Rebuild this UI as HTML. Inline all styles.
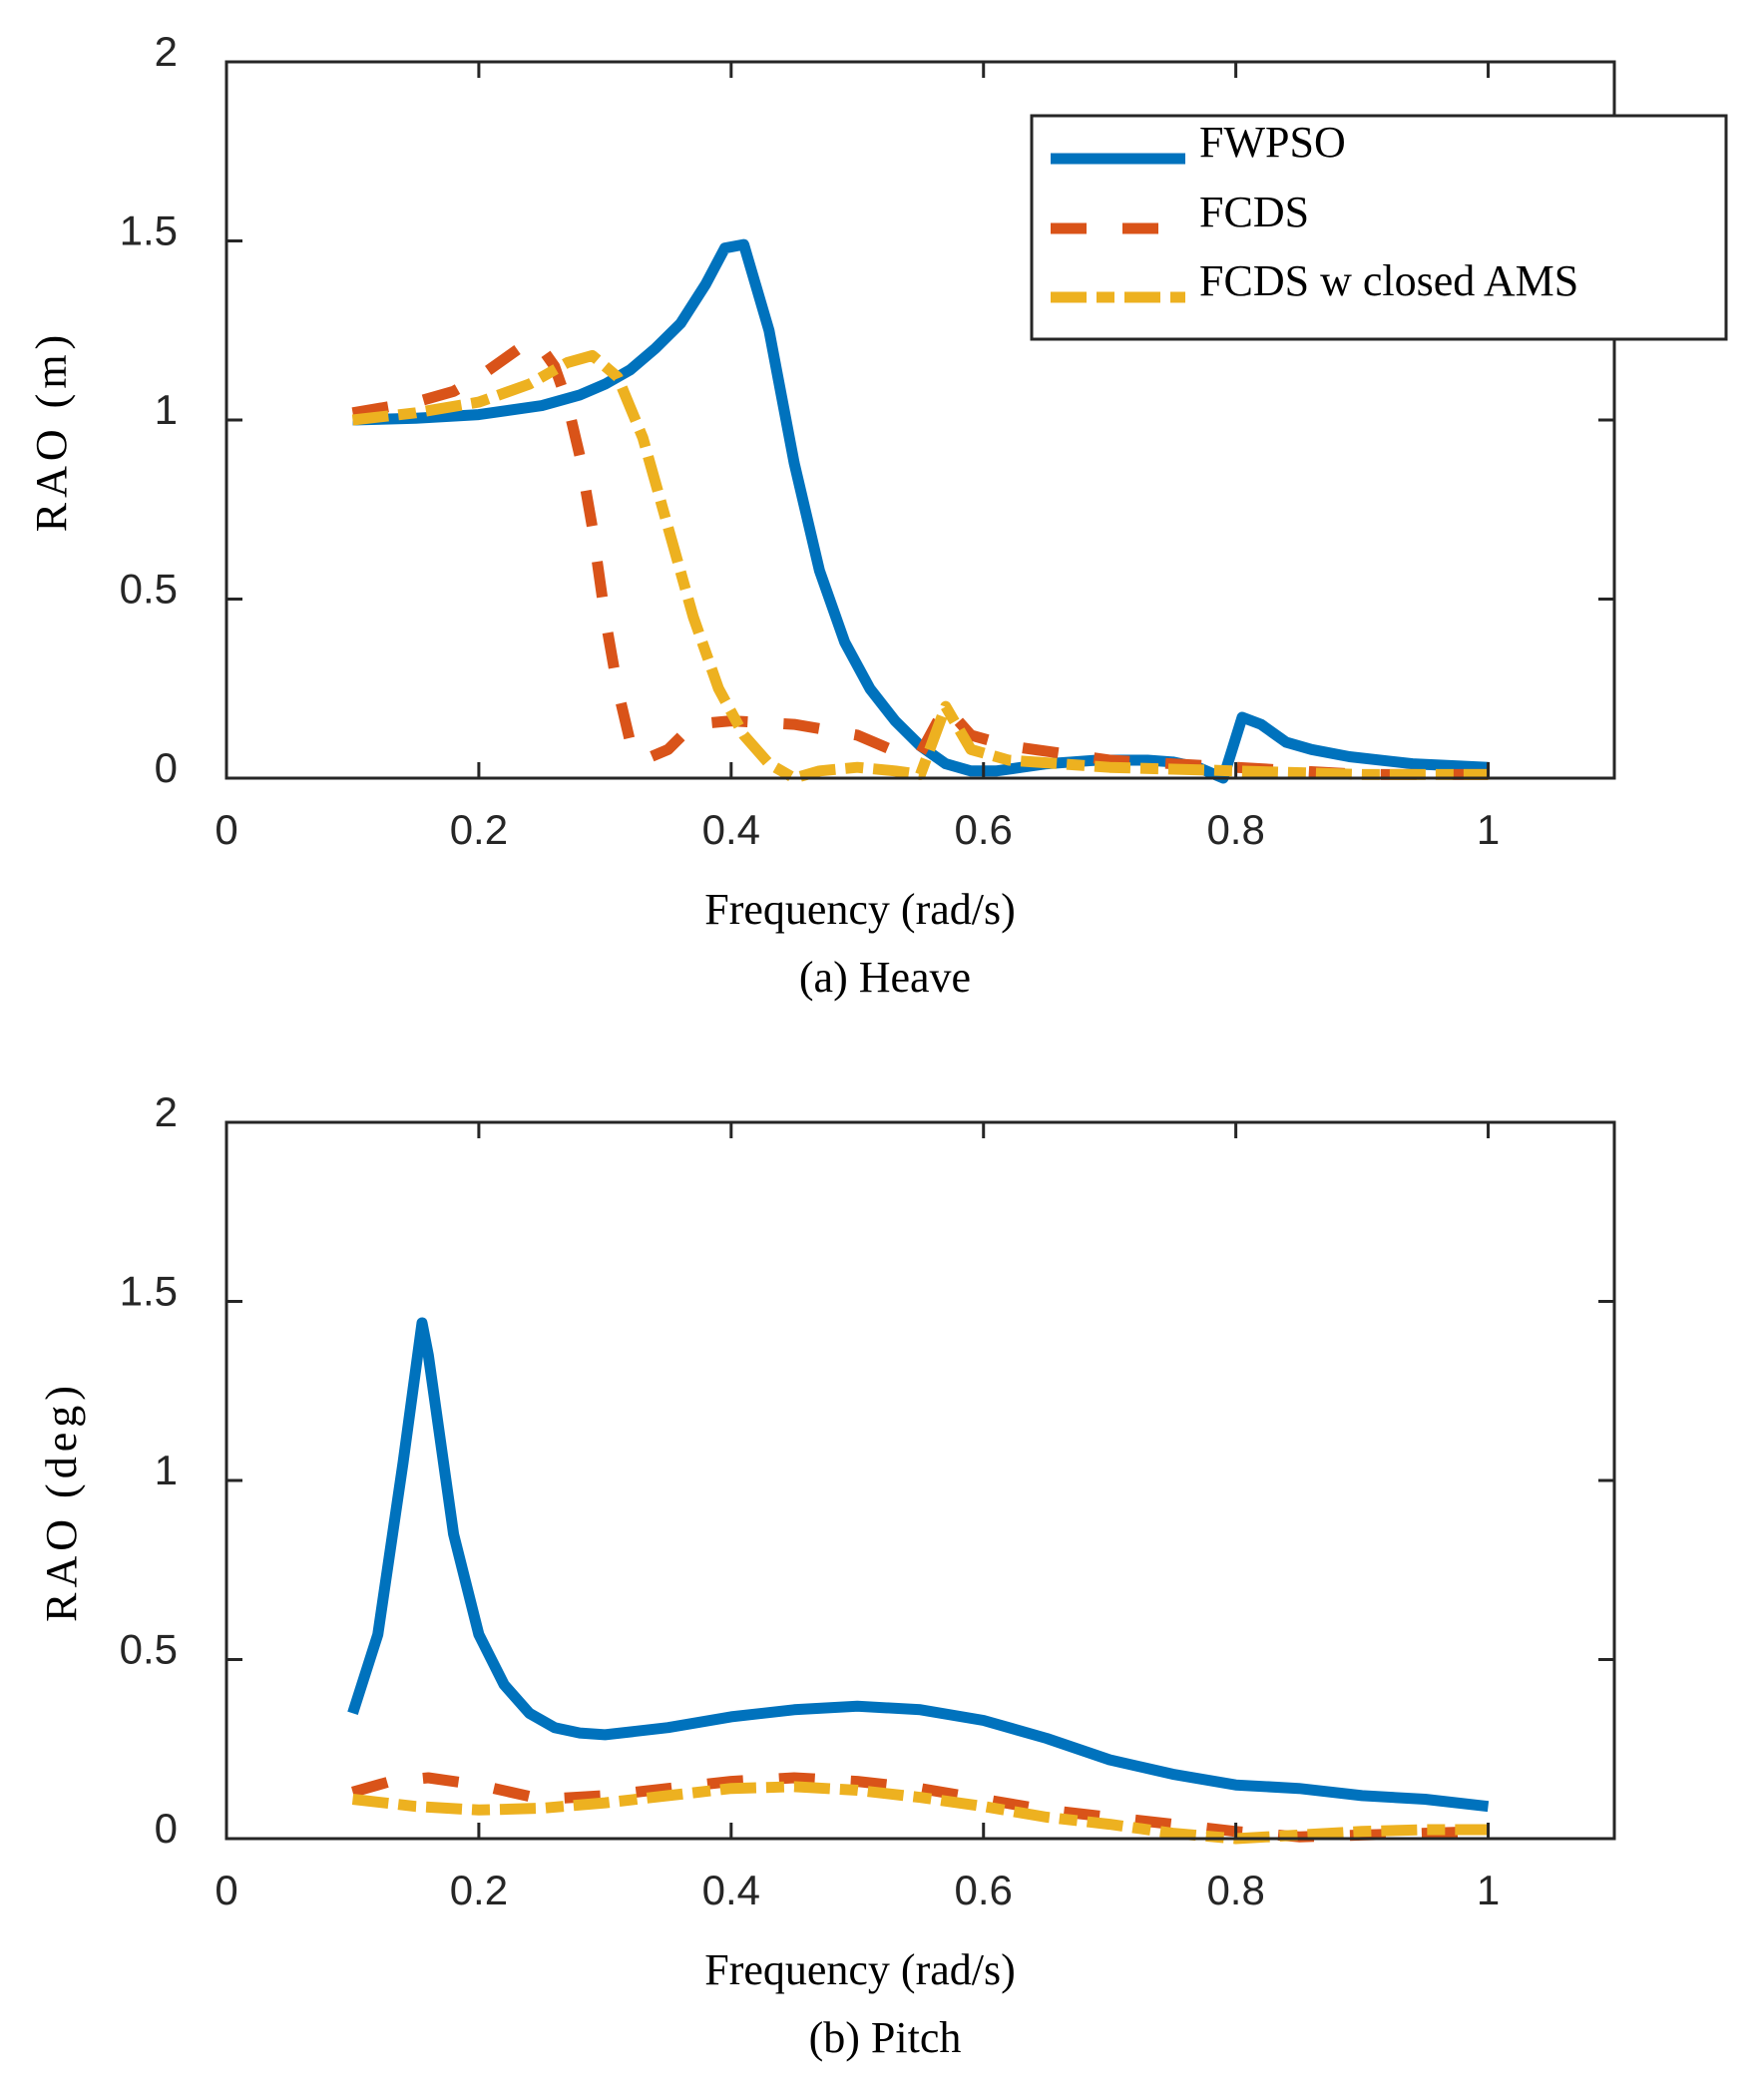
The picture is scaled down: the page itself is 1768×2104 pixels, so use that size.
<!DOCTYPE html>
<html><head><meta charset="utf-8"><style>
html,body{margin:0;padding:0;background:#fff;}
svg{display:block;}
.tick{font-family:"Liberation Sans",sans-serif;font-size:42px;fill:#262626;}
.lab{font-family:"Liberation Serif",serif;font-size:44px;fill:#000;}
</style></head><body>
<svg id="chart" width="1768" height="2104" viewBox="0 0 1768 2104" xmlns="http://www.w3.org/2000/svg"></svg>
<script>
const xTicks = [0, 0.2, 0.4, 0.6, 0.8, 1];
const xTickLabels = ["0", "0.2", "0.4", "0.6", "0.8", "1"];
const yTicks = [0, 0.5, 1, 1.5, 2];
const yTickLabels = ["0", "0.5", "1", "1.5", "2"];
const seriesNames = ["FWPSO", "FCDS", "FCDS w closed AMS"];

const heaveFwpsoX = [0.1,0.15,0.2,0.25,0.28,0.3,0.32,0.34,0.36,0.38,0.395,0.41,0.43,0.45,0.47,0.49,0.51,0.53,0.55,0.57,0.59,0.61,0.63,0.65,0.67,0.69,0.71,0.73,0.75,0.77,0.79,0.805,0.82,0.84,0.86,0.89,0.94,1.0];
const heaveFwpsoY = [1.0,1.005,1.015,1.04,1.07,1.1,1.14,1.2,1.27,1.38,1.48,1.49,1.25,0.88,0.58,0.38,0.25,0.16,0.09,0.04,0.02,0.02,0.03,0.04,0.045,0.05,0.05,0.05,0.045,0.03,0.0,0.17,0.15,0.1,0.08,0.06,0.04,0.03];
const heaveFcdsX = [0.1,0.15,0.18,0.2,0.22,0.24,0.25,0.26,0.27,0.28,0.29,0.3,0.31,0.32,0.33,0.35,0.37,0.4,0.45,0.5,0.54,0.55,0.57,0.59,0.62,0.7,0.8,0.9,1.0];
const heaveFcdsY = [1.02,1.05,1.08,1.12,1.17,1.22,1.2,1.15,1.05,0.9,0.7,0.45,0.25,0.1,0.05,0.08,0.15,0.16,0.15,0.12,0.06,0.07,0.2,0.12,0.09,0.05,0.03,0.01,0.01];
const heaveAmsX = [0.1,0.15,0.2,0.24,0.27,0.29,0.31,0.33,0.35,0.37,0.39,0.41,0.43,0.45,0.47,0.5,0.53,0.55,0.57,0.59,0.62,0.7,0.8,0.9,1.0];
const heaveAmsY = [1.0,1.02,1.05,1.1,1.16,1.18,1.12,0.95,0.7,0.45,0.25,0.12,0.04,0.0,0.02,0.03,0.02,0.01,0.2,0.08,0.05,0.03,0.02,0.01,0.01];

const pitchFwpsoX = [0.1,0.12,0.14,0.155,0.16,0.18,0.2,0.22,0.24,0.26,0.28,0.3,0.35,0.4,0.45,0.5,0.55,0.6,0.65,0.7,0.75,0.8,0.85,0.9,0.95,1.0];
const pitchFwpsoY = [0.35,0.57,1.05,1.44,1.35,0.85,0.57,0.43,0.35,0.31,0.295,0.29,0.31,0.34,0.36,0.37,0.36,0.33,0.28,0.22,0.18,0.15,0.14,0.12,0.11,0.09];
const pitchFcdsX = [0.1,0.13,0.16,0.2,0.25,0.3,0.35,0.4,0.45,0.5,0.55,0.6,0.65,0.7,0.75,0.8,0.85,0.9,0.95,1.0];
const pitchFcdsY = [0.13,0.16,0.17,0.15,0.11,0.12,0.14,0.16,0.17,0.16,0.14,0.11,0.08,0.06,0.04,0.02,0.005,0.01,0.015,0.02];
const pitchAmsX = [0.1,0.15,0.2,0.25,0.3,0.35,0.4,0.45,0.5,0.55,0.6,0.65,0.7,0.75,0.8,0.85,0.9,0.95,1.0];
const pitchAmsY = [0.11,0.09,0.08,0.085,0.1,0.12,0.14,0.145,0.135,0.115,0.09,0.06,0.04,0.015,0.0,0.01,0.02,0.025,0.025];

const NS = "http://www.w3.org/2000/svg";
const svg = document.getElementById("chart");
const colors = ["#0072BD", "#D95319", "#EDB120"];
const dashes = [null, "36 36", "36 10 18 10"];

function mk(tag, attrs, parent) {
  const e = document.createElementNS(NS, tag);
  for (const k in attrs) e.setAttribute(k, attrs[k]);
  (parent || svg).appendChild(e);
  return e;
}

function drawPanel(id, top, yTitle, xTitle, caption, sx, sy, yTitleX, yTitleY) {
  const L = 227, R = 1618, T = top, B = top + 718;
  const xs = v => L + (R - L) * v / 1.1;
  const ys = v => B - (B - T) * v / 2;
  const g = mk("g", {});
  
  

  const plotArea = mk("rect", {x: L, y: T, width: R - L, height: B - T, fill: "#fff", stroke: "none"}, g);
  
  

  const series = [[sx[0], sy[0]], [sx[1], sy[1]], [sx[2], sy[2]]];
  series.forEach((s, i) => {
    const d = s[0].map((xv, j) => (j ? "L" : "M") + xs(xv).toFixed(1) + " " + ys(s[1][j]).toFixed(1)).join(" ");
    const p = mk("path", {d: d, fill: "none", stroke: colors[i], "stroke-width": 11, "stroke-linejoin": "round"}, g);
    if (dashes[i]) p.setAttribute("stroke-dasharray", dashes[i]);
    
    
  });

  const frame = mk("rect", {x: L, y: T, width: R - L, height: B - T, fill: "none", stroke: "#262626", "stroke-width": 3}, g);
  
  

  xTicks.forEach((t, i) => {
    const x = xs(t);
    if (t > 0) {
      const tickLine = mk("path", {d: `M${x} ${B}v-16M${x} ${T}v16`, stroke: "#262626", "stroke-width": 3}, g);
      
      
    }
    const tx = mk("text", {x: x, y: B + 66, "text-anchor": "middle", class: "tick"}, g);
    tx.textContent = xTickLabels[i];
    
    
  });
  yTicks.forEach((t, i) => {
    const y = ys(t);
    if (t > 0 && t < 2) {
      const tickLine = mk("path", {d: `M${L} ${y}h16M${R} ${y}h-16`, stroke: "#262626", "stroke-width": 3}, g);
      
      
    }
    const ty = mk("text", {x: 178, y: y + 4, "text-anchor": "end", class: "tick"}, g);
    ty.textContent = yTickLabels[i];
    
    
  });

  const yt = mk("text", {x: 0, y: 0, "text-anchor": "middle", class: "lab", style: "letter-spacing:5px", transform: `translate(${yTitleX},${yTitleY}) rotate(-90)`}, g);
  yt.textContent = yTitle;
  
  

  const xt = mk("text", {x: 862, y: B + 146, "text-anchor": "middle", class: "lab"}, g);
  xt.textContent = xTitle;
  
  

  const cap = mk("text", {x: 887, y: B + 214, "text-anchor": "middle", class: "lab"}, g);
  cap.textContent = caption;
  
  
}

drawPanel("heave", 62, "RAO (m)", "Frequency (rad/s)", "(a) Heave",
  [heaveFwpsoX, heaveFcdsX, heaveAmsX], [heaveFwpsoY, heaveFcdsY, heaveAmsY], 66, 432);
drawPanel("pitch", 1125, "RAO (deg)", "Frequency (rad/s)", "(b) Pitch",
  [pitchFwpsoX, pitchFcdsX, pitchAmsX], [pitchFwpsoY, pitchFcdsY, pitchAmsY], 76, 1505);

// legend
const lg = mk("g", {});


const lbox = mk("rect", {x: 1034, y: 116, width: 696, height: 224, fill: "#fff", stroke: "#262626", "stroke-width": 3}, lg);


const rowsY = [159, 229, 298];
seriesNames.forEach((n, i) => {
  const ln = mk("line", {x1: 1053, x2: 1188, y1: rowsY[i], y2: rowsY[i], stroke: colors[i], "stroke-width": 11}, lg);
  if (dashes[i]) ln.setAttribute("stroke-dasharray", dashes[i]);
  
  
  const tx = mk("text", {x: 1202, y: rowsY[i] - 2, class: "lab", style: "font-size:44px"}, lg);
  tx.textContent = n;
  
  
});
</script>
</body></html>
